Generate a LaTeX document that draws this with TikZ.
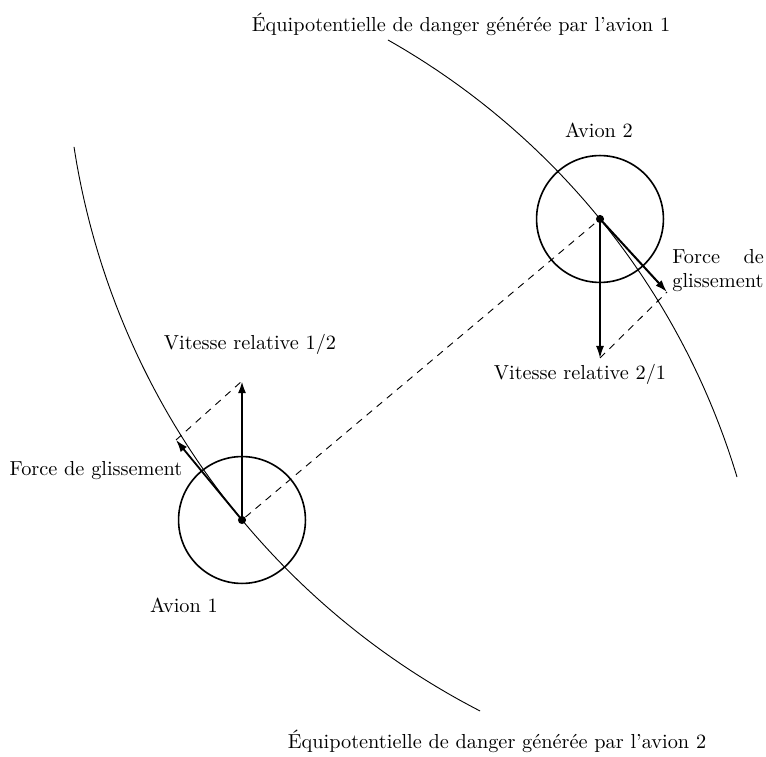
\documentclass[tikz,border=0pt]{standalone}
\usepackage{fontspec}
\usetikzlibrary{arrows.meta}
\begin{document}
\begin{tikzpicture}[x=0.4926pt,y=-0.4926pt,
  lbl/.style={inner sep=0pt, font=\normalsize},
  plane/.style={circle, draw, line width=0.8pt, minimum size=62.5pt, inner sep=0pt},
  dotc/.style={circle, fill, inner sep=0pt, minimum size=4pt},
  equi/.style={line width=0.45pt},
  vec/.style={-{Latex[length=6pt,width=4pt]}},
  helper/.style={dashed, line width=0.45pt, dash pattern=on 3.5pt off 3pt}
]
\useasboundingbox (0,0) rectangle (766,757);

% equipotentials
\draw[equi] plot[domain=-60.47:-16.75, samples=120, smooth] ({17.8+751.1*cos(\x)}, {693.5+751.1*sin(\x)});
\draw[equi] plot[domain=117.24:171.26, samples=120, smooth] ({830.3+765.2*cos(\x)}, {30.68+765.2*sin(\x)});

% planes
\node[plane] (p1) at (242,520) {};
\node[plane] (p2) at (600,219) {};
\node[dotc] (c1) at (p1.center) {};
\node[dotc] (c2) at (p2.center) {};

% vector ends
\coordinate (v1) at (242,381);
\coordinate (f1) at (176,440);
\coordinate (v2) at (600,358);
\coordinate (f2) at (667,292);

% helper dashed lines
\draw[helper] (c1) -- (c2);
\draw[helper] (f1) -- (v1);
\draw[helper] (v2) -- (f2);

% vectors
\draw[vec, line width=1.1pt] (c1.center) -- (v1);
\draw[vec, line width=0.9pt] (c1.center) -- (f1);
\draw[vec, line width=0.6pt] (c2.center) -- (v2);
\draw[vec, line width=1.0pt] (c2.center) -- (f2);

% labels
\node[lbl, anchor=base] (t1) at (461,32) {Équipotentielle de danger générée par l'avion 1};
\node[lbl, anchor=base] (t2) at (497,748) {Équipotentielle de danger générée par l'avion 2};
\node[lbl] (a2) at (599,130) {Avion 2};
\node[lbl] (a1) at (184,605) {Avion 1};
\node[lbl, anchor=base] (vr1) at (250,350) {Vitesse relative 1/2};
\node[lbl, anchor=base] (vr2) at (580,380) {Vitesse relative 2/1};
\node[lbl] (fg1) at (96,471) {Force de glissement};
\node[lbl, anchor=north west, align=left] (fg2) at (672,249) {\makebox[45.1pt][s]{Force de}\\glissement};
\end{tikzpicture}
\end{document}
